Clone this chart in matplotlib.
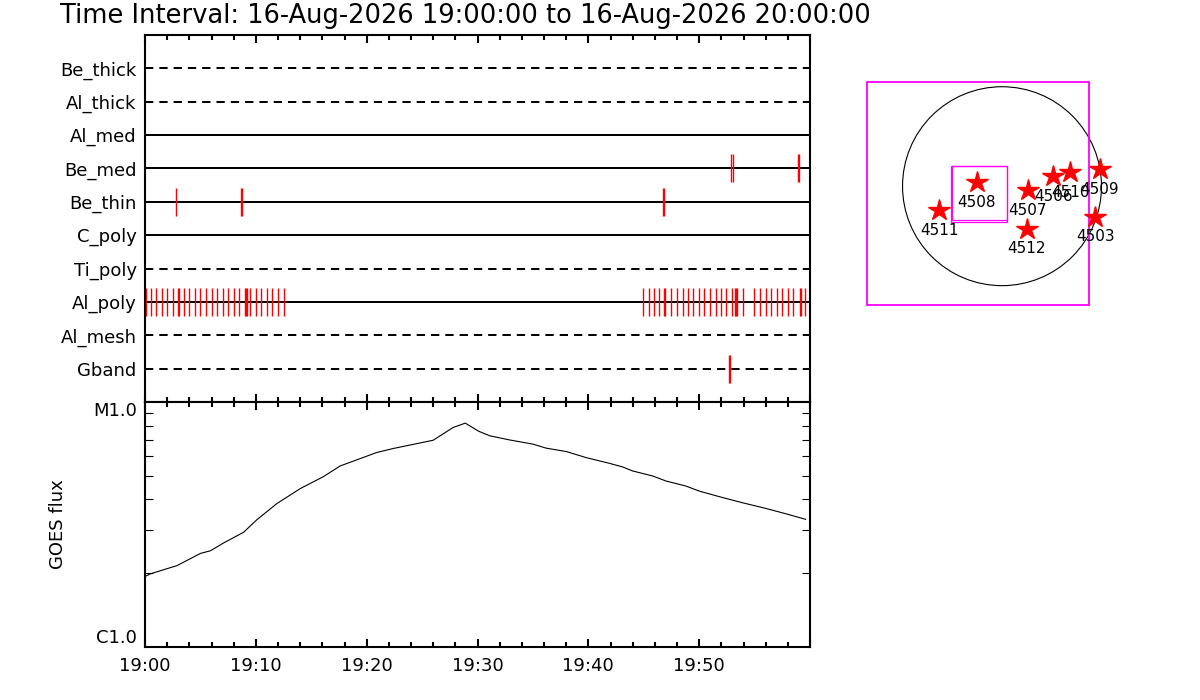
import matplotlib
matplotlib.use("Agg")
import matplotlib.pyplot as plt
from matplotlib.patches import Rectangle, Circle
from matplotlib.ticker import FixedLocator, NullFormatter

# ---------------- data ----------------
title_text = "Time Interval: 16-Aug-2026 19:00:00 to 16-Aug-2026 20:00:00"

# channels, bottom to top
channels = ["Gband", "Al_mesh", "Al_poly", "Ti_poly", "C_poly",
            "Be_thin", "Be_med", "Al_med", "Al_thick", "Be_thick"]
channel_unused = [True, True, False, True, False, False, False, False, True, True]

# event times in minutes after 19:00
be_thin_events = [2.79, 8.70, 8.79, 46.70, 46.79]
be_med_events = [52.90, 53.09, 58.88, 58.97]
gband_events = [52.73, 52.82]
al_poly_events = [0.06, 0.51, 0.99, 1.50, 2.00, 2.52, 3.00, 3.09, 3.51, 4.00,
                  4.50, 5.00, 5.50, 6.00, 6.50, 7.00, 7.50, 8.00, 8.50, 9.00,
                  9.09, 9.18, 9.50, 10.00, 10.50, 11.00, 11.50, 12.00, 12.50,
                  44.89, 45.43, 45.95, 46.42, 46.86, 46.95, 47.48, 47.99, 48.50,
                  48.98, 49.46, 49.97, 50.48, 50.99, 51.50, 51.98, 52.46, 52.97,
                  53.27, 53.36, 53.45, 53.99, 54.98, 55.50, 56.00, 56.49, 57.00,
                  57.50, 58.02, 58.50, 59.10, 59.19, 59.55]
channel_events = {"Be_thin": be_thin_events, "Be_med": be_med_events,
                  "Gband": gband_events, "Al_poly": al_poly_events}

# GOES flux (W/m^2) vs minutes after 19:00
goes_minutes = [0.0, 0.5, 2.9, 5.0, 5.9, 7.1, 8.9, 10.1, 11.9, 14.0, 16.1, 17.6,
                20.9, 22.4, 26.0, 27.8, 28.9, 30.1, 31.1, 32.9, 35.0, 36.2, 38.0,
                39.8, 41.9, 43.1, 44.0, 45.8, 47.0, 48.8, 50.0, 51.8, 53.9, 56.0,
                57.8, 59.6]
goes_flux = [1.94e-6, 1.99e-6, 2.15e-6, 2.41e-6, 2.47e-6, 2.66e-6, 2.94e-6,
             3.31e-6, 3.85e-6, 4.43e-6, 4.96e-6, 5.48e-6, 6.22e-6, 6.46e-6,
             6.98e-6, 7.87e-6, 8.20e-6, 7.60e-6, 7.28e-6, 7.00e-6, 6.73e-6,
             6.48e-6, 6.28e-6, 5.93e-6, 5.62e-6, 5.43e-6, 5.23e-6, 4.99e-6,
             4.76e-6, 4.54e-6, 4.33e-6, 4.11e-6, 3.88e-6, 3.68e-6, 3.50e-6,
             3.32e-6]

time_tick_values = [0, 10, 20, 30, 40, 50, 60]
time_tick_labels = ["19:00", "19:10", "19:20", "19:30", "19:40", "19:50", ""]
flux_tick_values = [1e-6, 1e-5]
flux_tick_labels = ["C1.0", "M1.0"]

# active regions (arcsec from disk centre)
ar_numbers = ["4508", "4511", "4507", "4512", "4506", "4510", "4509", "4503"]
ar_x = [-244, -608, 248, 238, 495, 656, 945, 900]
ar_y = [38, -230, -37, -413, 98, 134, 164, -294]
sun_radius = 960
fov_box = [-1306, 842, -1146, 1003]      # x0, x1, y0, y1
sub_box_a = [-495, 48, -343, 192]
sub_box_b = [-479, 48, -330, 192]

# ---------------- figure ----------------
fig = plt.figure(figsize=(12, 7), dpi=100, facecolor="white")
W, H = 1200.0, 700.0

def pos(x0, y0, x1, y1):
    return [x0 / W, 1 - y1 / H, (x1 - x0) / W, (y1 - y0) / H]

ax1 = fig.add_axes(pos(145, 35, 810, 402))
ax2 = fig.add_axes(pos(145, 402, 810, 647))
ax3 = fig.add_axes(pos(850, 60, 1150, 330))

spine_w = 1.5

# ---- top panel: channels ----
rows = list(range(1, len(channels) + 1))
for r, name, unused in zip(rows, channels, channel_unused):
    ls = (0, (4.15, 3.0)) if unused else "-"
    ax1.plot([0, 60], [r, r], color="black", lw=1.44, ls=ls, zorder=2)
    ev = channel_events.get(name)
    if ev:
        vl = ax1.vlines(ev, r - 0.42, r + 0.42, colors="#ff0000", lw=1.0,
                        zorder=3)
        vl.set_snap(True)

ax1.set_xlim(0, 60)
ax1.set_ylim(0, len(channels) + 1)
ax1.set_yticks(rows)
ax1.set_yticklabels(channels, fontsize=13)
ax1.tick_params(axis="y", length=0, pad=6)
ax1.xaxis.set_major_locator(FixedLocator(time_tick_values))
ax1.xaxis.set_minor_locator(FixedLocator([m for m in range(0, 61, 2)]))
ax1.tick_params(axis="x", which="both", direction="in", top=True, bottom=True,
                labelbottom=False, width=1.5)
ax1.tick_params(axis="x", which="major", length=6)
ax1.tick_params(axis="x", which="minor", length=3.5)
for s in ax1.spines.values():
    s.set_linewidth(spine_w)

# ---- bottom panel: GOES ----
ax2.plot(goes_minutes, goes_flux, color="black", lw=0.8)
ax2.set_yscale("log")
ax2.set_xlim(0, 60)
ax2.set_ylim(1e-6, 1e-5)
ax2.xaxis.set_major_locator(FixedLocator(time_tick_values))
ax2.set_xticklabels(time_tick_labels, fontsize=13)
ax2.xaxis.set_minor_locator(FixedLocator([m for m in range(0, 61, 2)]))
ax2.tick_params(axis="x", which="both", direction="in", top=True, bottom=True,
                width=1.5, pad=7)
ax2.tick_params(axis="x", which="major", length=6)
ax2.tick_params(axis="x", which="minor", length=3.5)

ax2.yaxis.set_major_locator(FixedLocator(flux_tick_values))
ax2.set_yticklabels(flux_tick_labels, fontsize=13)
ax2.yaxis.set_minor_locator(FixedLocator([k * 1e-6 for k in range(2, 10)]))
ax2.yaxis.set_minor_formatter(NullFormatter())
ax2.tick_params(axis="y", which="major", length=0, pad=6)
ax2.tick_params(axis="y", which="minor", direction="in", left=True, right=True,
                length=6, width=0.8)
labs = ax2.get_yticklabels()
labs[0].set_verticalalignment("bottom")
labs[1].set_verticalalignment("top")
ax2.set_ylabel("GOES flux", fontsize=13)
ax2.yaxis.set_label_coords(-0.117, 0.50)
for s in ax2.spines.values():
    s.set_linewidth(spine_w)

# ---- right panel: solar disk ----
ax3.set_xlim(-1467, 1428)
ax3.set_ylim(-1388, 1218)
ax3.axis("off")
ax3.add_patch(Circle((0, 0), sun_radius, fill=False, ec="black", lw=0.8))
for box, lw in [(fov_box, 1.3), (sub_box_a, 0.9), (sub_box_b, 0.9)]:
    ax3.add_patch(Rectangle((box[0], box[2]), box[1] - box[0], box[3] - box[2],
                            fill=False, ec="#ff00ff", lw=lw))
ax3.plot(ar_x, ar_y, ls="none", marker="*", ms=16, color="#ff0000",
         mec="#ff0000")
for n, x, y in zip(ar_numbers, ar_x, ar_y):
    ax3.annotate(n, (x, y), xytext=(0, -14.4), textcoords="offset points",
                 ha="center", va="center", fontsize=11, annotation_clip=False)

fig.text(60 / W, 1 - 16 / H, title_text, ha="left", va="center", fontsize=18.5)

fig.savefig("out.png", dpi=100, facecolor="white")
